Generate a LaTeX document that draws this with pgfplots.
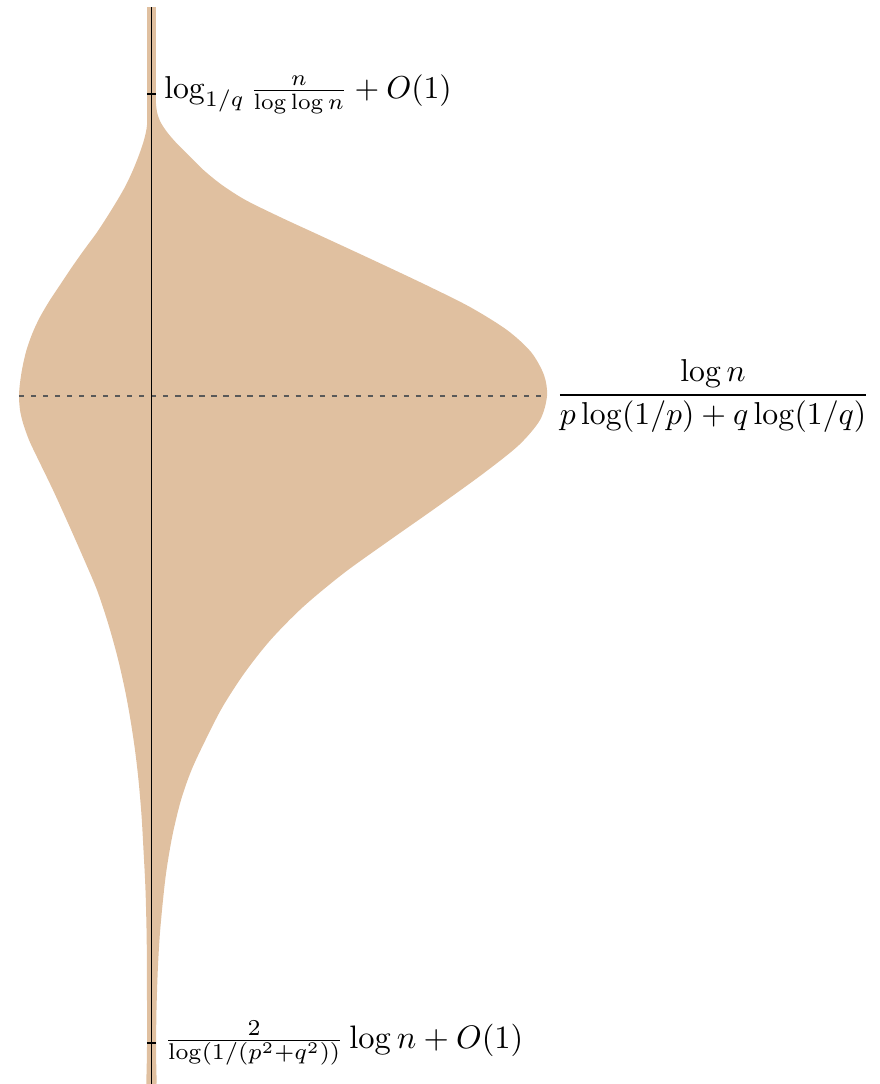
\documentclass[border=0pt]{standalone}
\usepackage{pgfplots}
\pgfplotsset{compat=1.18}
\definecolor{violin}{RGB}{224,192,160}

% outline of the depth profile: horizontal offset from the axis line, depth
\pgfplotstableread{
x y
4.2 100
5.5 112
9 122
15.5 132
24 142
37 155
52 170
70.5 185
94 200
128.5 217
167.5 235
221.5 260
274.5 285
318.5 307
355.5 330
379.5 352
392.5 375
395.5 396
388.5 420
367.5 445
332.5 473
285.5 507
238.5 540
192.5 573
151.5 607
119 640
93 673
71 707
54 740
40 770
29.5 800
21 835
15 870
11.5 900
8.3 935
6.3 970
5 1010
4.5 1050
4.5 1090
-4.5 1090
-4.5 1050
-4.5 1000
-4.8 940
-6 890
-8 850
-10 815
-13 780
-16.5 750
-21 720
-26.5 690
-34 657
-43.5 623
-54.5 590
-68.5 557
-83.5 523
-98.5 490
-114.5 457
-122.5 440
-128.5 423
-131.5 410
-132.5 396
-131.5 383
-129 367
-125 350
-119 333
-111.5 317
-101.5 300
-91.5 285
-79.5 267
-67.5 250
-55 233
-44.5 217
-34 200
-25.5 185
-18.5 170
-12.5 155
-7.5 140
-4.5 125
-4.2 100
}\profile

\newcommand{\lbl}[1]{\scalebox{0.975}{#1}}

\begin{document}
\begin{tikzpicture}
\begin{axis}[
  x=0.3077pt, y=0.3077pt, y dir=reverse,
  xmin=-151.5, xmax=728.5, ymin=7, ymax=1084,
  axis x line=none, axis y line=center,
  axis line style={-, black},
  axis on top,
  clip=false,
  ytick={94,1043},
  yticklabels={
    {\lbl{$\log_{1/q}\frac{n}{\log\log n}+O(1)$}},
    {\scalebox{1.0}{$\frac{2}{\log(1/(p^2+q^2))}\log n+O(1)$}}},
  tick align=center,
  major tick length=2.8pt,
  tick style={black, thin},
  yticklabel style={anchor=west, xshift=1.8pt},
]
  % thin strip that runs along the whole axis
  \addplot [fill=violin, draw=none] coordinates {(-4.3,7) (4.2,7) (4.2,1090) (-4.3,1090)} -- cycle;
  % main body
  \addplot [fill=violin, draw=none, smooth] table {\profile} -- cycle;
  % dashed level
  \addplot [black!65, line width=0.45pt, dash pattern=on 1.6pt off 2.1pt]
    coordinates {(-132.5,396) (395.5,396)};
  \node[anchor=west, inner sep=0pt] at (axis cs:404,396)
    {\lbl{$\displaystyle\frac{\log n}{p\log(1/p)+q\log(1/q)}$}};
  \coordinate (tl) at (axis cs:-151.5,0);
  \coordinate (br) at (axis cs:728.5,1084);
\end{axis}
\pgfresetboundingbox
\useasboundingbox (tl) rectangle (br);
\end{tikzpicture}
\end{document}
